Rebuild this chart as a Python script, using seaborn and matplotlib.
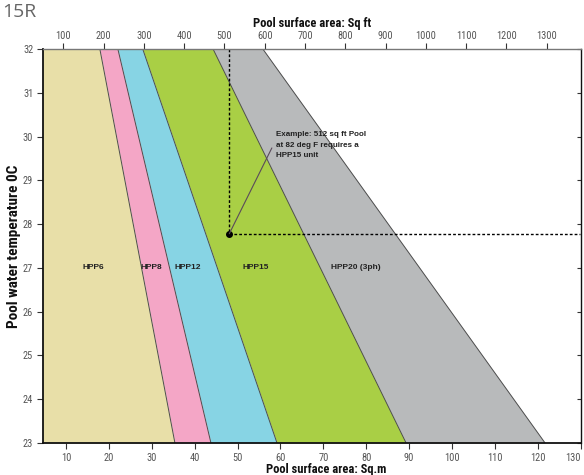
import numpy as np
import pandas as pd
import matplotlib
matplotlib.use("Agg")
import matplotlib.pyplot as plt
from matplotlib import font_manager
import seaborn as sns

# Pool temperature range (deg C) at which each boundary is read
temps = [23, 32]

# Boundaries between heat pump models, pool area in m2 at 23C and 32C
bound_6_8 = [35.4, 17.9]
bound_8_12 = [43.8, 22.1]
bound_12_15 = [59.2, 27.9]
bound_15_20 = [89.3, 44.3]
bound_20_max = [121.7, 55.9]

models = ["HPP6", "HPP8", "HPP12", "HPP15", "HPP20 (3ph)"]
label_x = [16.3, 30.0, 38.4, 54.3, 77.6]
colors = ["#E8DFA8", "#F4A6C6", "#87D4E4", "#A9CF45", "#B8BABB"]

bottom_ticks = list(range(10, 140, 10))
top_ticks = list(range(100, 1400, 100))
temp_ticks = list(range(23, 33))

# worked example
example_sqft = 512
example_temp = 27.78
sqft_per_m2 = 10.65

# pick a narrow font if one is there
installed = {f.name for f in font_manager.fontManager.ttflist}
narrow = "DejaVu Sans"
for name in ["Liberation Sans Narrow", "Roboto Condensed", "DejaVu Sans Condensed",
             "Open Sans Condensed", "Roboto"]:
    if name in installed:
        narrow = name
        break

sns.set_theme(style="white")
plt.rcParams["font.family"] = [narrow, "DejaVu Sans"]

fig = plt.figure(figsize=(5.84, 4.75), dpi=100)
ax = fig.add_axes([0.0736, 0.0674, 0.9207, 0.8294])

xmin, xmax = 4.64, 129.9
bounds = [[0, 0], bound_6_8, bound_8_12, bound_12_15, bound_15_20, bound_20_max]
for i, c in enumerate(colors):
    ax.fill_betweenx(temps, bounds[i], bounds[i + 1], color=c, lw=0)

# boundary lines
rows = []
for name, b in zip(["b1", "b2", "b3", "b4", "b5"], bounds[1:]):
    for t, a in zip(temps, b):
        rows.append({"boundary": name, "area": a, "temp": t})
lines = pd.DataFrame(rows)
sns.lineplot(data=lines, x="area", y="temp", units="boundary", estimator=None,
             sort=False, color="#4d4d4d", lw=0.7, ax=ax, legend=False)

for name, x in zip(models, label_x):
    ax.text(x, 27, name, ha="center", va="center", fontsize=6,
            fontweight="bold", color="#222222", family="Liberation Sans")

# example lines
ex_m2 = example_sqft / sqft_per_m2
ax.plot([ex_m2, ex_m2], [32, example_temp], ls=(0, (2, 1.5)), color="black", lw=1)
ax.plot([ex_m2, xmax], [example_temp, example_temp], ls=(0, (2, 1.5)), color="black", lw=1)
ax.plot([ex_m2], [example_temp], "o", color="black", ms=4)
ax.plot([ex_m2, 58.0], [example_temp, 29.74], color="#5a4a5a", lw=0.8)
ax.text(59.0, 30.12, "Example: 512 sq ft Pool\nat 82 deg F requires a\nHPP15 unit",
        ha="left", va="top", fontsize=5.8, fontweight="bold", color="#222222",
        family="Liberation Sans", linespacing=1.7)

ax.set_xlim(xmin, xmax)
ax.set_ylim(23, 32)
ax.set_xticks(bottom_ticks)
ax.set_yticks(temp_ticks)
ax.tick_params(axis="both", which="both", labelsize=7.5, labelcolor="#555555",
               color="#333333", length=4, width=0.8, direction="out",
               bottom=True, left=True)
ax.tick_params(axis="x", pad=3)
ax.tick_params(axis="y", pad=3)
# last bottom label sits on the right edge
ax.get_xticklabels()[-1].set_horizontalalignment("right")

# right side inward ticks
ax.tick_params(axis="y", right=True, which="both")
for t in ax.yaxis.get_major_ticks():
    t.tick2line.set_marker(matplotlib.lines.TICKLEFT)
    t.tick2line.set_markersize(3)

for side in ["left", "bottom"]:
    ax.spines[side].set_color("#111111")
    ax.spines[side].set_linewidth(1.3)
ax.spines["right"].set_color("#111111")
ax.spines["right"].set_linewidth(1.0)
ax.spines["top"].set_color("#777777")
ax.spines["top"].set_linewidth(1.0)

ax.set_xlabel("Pool surface area: Sq.m", fontsize=9, fontweight="bold",
              color="#111111", labelpad=0)
ax.xaxis.set_label_coords(0.526, -0.05)
ax.set_ylabel("Pool water temperature 0C", fontsize=11, fontweight="bold",
              color="#111111", labelpad=1)

secax = ax.secondary_xaxis("top", functions=(lambda m: m * sqft_per_m2,
                                             lambda f: f / sqft_per_m2))
secax.set_xticks(top_ticks)
secax.tick_params(labelsize=7.5, labelcolor="#555555", color="#333333",
                  length=4, width=0.8, direction="out", pad=2)
secax.spines["top"].set_visible(False)
secax.set_xlabel("Pool surface area: Sq ft", fontsize=9, fontweight="bold",
                 color="#111111", labelpad=3)

fig.text(2 / 584, 1 - 17 / 475, "15R", ha="left", va="baseline",
         fontsize=14, color="#666666", family="Open Sans")

fig.savefig("out.png", dpi=100)
